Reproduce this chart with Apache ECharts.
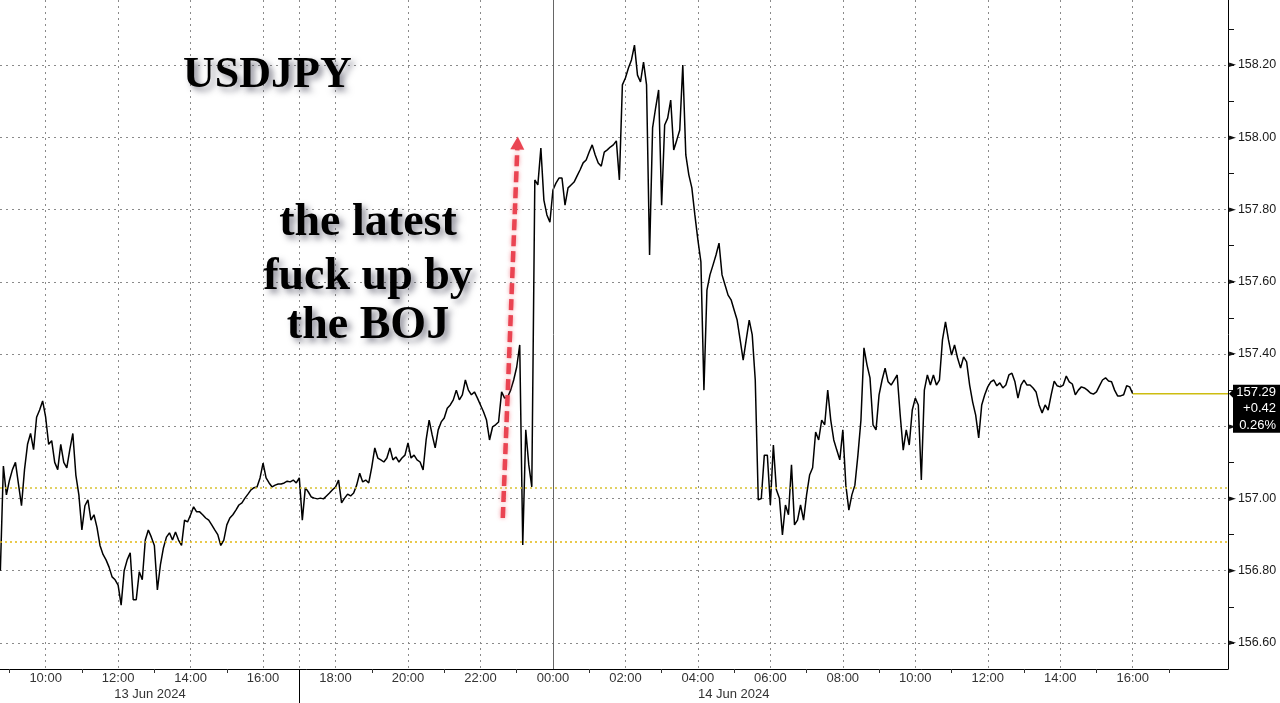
<!DOCTYPE html>
<html>
<head>
<meta charset="utf-8">
<title>USDJPY</title>
<script src="https://cdn.jsdelivr.net/npm/echarts@6.0.0/dist/echarts.min.js"></script>
<style>
html, body { margin: 0; padding: 0; background: #fff; }
#chart { width: 1280px; height: 703px; }
</style>
</head>
<body>
<div id="chart"></div>
<script>
// USDJPY 5-minute closes, 13 Jun 2024 08:45 -> 14 Jun 2024 16:00
var startHour = 8.75;      // hours after 13 Jun 00:00
var stepMinutes = 5;

var pricesJun13Day = [
  156.800, 157.090, 157.010, 157.050, 157.080, 157.100, 157.040, 156.980, 157.080, 157.150,
  157.180, 157.135, 157.225, 157.245, 157.270, 157.225, 157.150, 157.160, 157.100, 157.080,
  157.150, 157.100, 157.085, 157.135, 157.180, 157.065, 157.010, 156.913, 156.980, 156.996,
  156.940, 156.955, 156.920, 156.870, 156.845, 156.830, 156.810, 156.783, 156.775, 156.760,
  156.705, 156.800, 156.830, 156.850, 156.720, 156.720, 156.797, 156.775, 156.885, 156.913,
  156.893, 156.870, 156.747, 156.816, 156.863, 156.893, 156.905, 156.885, 156.907, 156.885,
  156.870, 156.940, 156.935, 156.955, 156.977, 156.963, 156.963, 156.955, 156.946, 156.940,
  156.927, 156.913, 156.900, 156.870, 156.885, 156.927, 156.946, 156.955, 156.968, 156.982,
  156.988, 157.001, 157.012, 157.024, 157.030, 157.032, 157.057, 157.098, 157.057, 157.043,
  157.032, 157.037, 157.040, 157.040, 157.043, 157.048, 157.046, 157.051, 157.043, 157.057
];
var pricesJun13Eve = [
  156.940, 157.030, 157.018, 157.004, 157.001, 156.999, 157.001, 156.999, 157.007, 157.015,
  157.024, 157.032, 157.051, 156.988, 157.001, 157.012, 157.007, 157.015, 157.037, 157.070,
  157.046, 157.051, 157.043, 157.087, 157.140, 157.112, 157.107, 157.101, 157.112, 157.140,
  157.107, 157.115, 157.101, 157.112, 157.120, 157.154, 157.112, 157.120, 157.107, 157.101,
  157.079, 157.162, 157.217, 157.176, 157.140, 157.190, 157.212, 157.223, 157.250, 157.259,
  157.273, 157.300, 157.273, 157.287, 157.328, 157.300, 157.287, 157.295, 157.278, 157.259,
  157.240, 157.217, 157.162, 157.198, 157.204, 157.212, 157.295, 157.278, 157.281, 157.300,
  157.328, 157.364, 157.425, 156.871, 157.190, 157.093, 157.032, 157.882, 157.868, 157.970,
  157.826, 157.785, 157.765, 157.854
];
var pricesJun14Asia = [
  157.873, 157.887, 157.887, 157.812, 157.860, 157.868, 157.876, 157.893, 157.910, 157.929,
  157.937, 157.959, 157.979, 157.951, 157.929, 157.920, 157.959, 157.965, 157.973, 157.979,
  157.990, 157.882, 158.145, 158.164, 158.192, 158.214, 158.255, 158.172, 158.153, 158.208,
  158.145, 157.674, 158.026, 158.081, 158.131, 157.812, 158.034, 158.053, 158.103, 157.965,
  157.992, 158.020, 158.200, 157.951, 157.896, 157.860, 157.785, 157.716, 157.655, 157.300,
  157.577, 157.619, 157.646, 157.674, 157.707, 157.619, 157.591, 157.563, 157.550, 157.522,
  157.494, 157.439, 157.383, 157.439, 157.494, 157.453, 157.328, 156.996, 157.000, 157.120,
  157.120, 156.982, 157.148, 157.024, 157.001, 156.899, 156.982, 156.955, 157.093, 156.927,
  156.940, 156.982, 156.940, 157.010, 157.065, 157.085, 157.184, 157.162, 157.217, 157.204,
  157.300, 157.217, 157.162, 157.134, 157.107, 157.190
];
var pricesJun14Day = [
  157.037, 156.968, 157.010, 157.037, 157.120, 157.217, 157.417, 157.370, 157.334, 157.204,
  157.190, 157.287, 157.328, 157.361, 157.323, 157.314, 157.328, 157.342, 157.231, 157.134,
  157.190, 157.148, 157.245, 157.278, 157.259, 157.051, 157.300, 157.342, 157.314, 157.342,
  157.314, 157.328, 157.439, 157.489, 157.439, 157.397, 157.425, 157.389, 157.361, 157.392,
  157.378, 157.314, 157.267, 157.231, 157.168, 157.259, 157.287, 157.309, 157.323, 157.328,
  157.312, 157.320, 157.306, 157.314, 157.342, 157.347, 157.323, 157.278, 157.314, 157.328,
  157.314, 157.314, 157.306, 157.295, 157.259, 157.237, 157.259, 157.245, 157.287, 157.325,
  157.312, 157.309, 157.314, 157.339, 157.323, 157.317, 157.287, 157.300, 157.309, 157.306,
  157.300, 157.292, 157.289, 157.295, 157.312, 157.328, 157.334, 157.325, 157.323, 157.300,
  157.284, 157.284, 157.287, 157.312, 157.309, 157.290
];

// axis ticks and labels (hours after 13 Jun 00:00)
var hourLabels = [10, 12, 14, 16, 18, 20, 22, 24, 26, 28, 30, 32, 34, 36, 38, 40];
var hourTicks = [9, 11, 13, 15, 17, 19, 21, 23, 25, 27, 29, 31, 33, 35, 37, 39, 41];
var gridHours = [10, 12, 14, 16, 17, 18, 20, 22, 26, 28, 30, 32, 34, 36, 38, 40];
var dayBreakHour = 24;
var sessionBreakHour = 17;
var dayLabelHours = [12.88, 28.99];
var dayLabels = ['13 Jun 2024', '14 Jun 2024'];
var priceLabels = [156.6, 156.8, 157.0, 157.2, 157.4, 157.6, 157.8, 158.0, 158.2];
var priceTicks = [156.6, 156.7, 156.8, 156.9, 157.0, 157.1, 157.2, 157.3, 157.4, 157.5,
                  157.6, 157.7, 157.8, 157.9, 158.0, 158.1, 158.2, 158.3];
var refLevels = [157.035, 156.88];
var lastPrice = 157.29;
var lastChange = '+0.42';
var lastPct = '0.26%';

var xMin = 8.74, xMax = 42.63;
var yMin = 156.528, yMax = 158.38;

var prices = pricesJun13Day.concat(pricesJun13Eve, pricesJun14Asia, pricesJun14Day);
var lineData = prices.map(function (v, i) {
  return [startHour + i * stepMinutes / 60, v];
});
var lastHour = lineData[lineData.length - 1][0];

var gridDot = { color: '#8a8a8a', width: 1, type: [2, 4] };

var chart = echarts.init(document.getElementById('chart'), null, { renderer: 'canvas' });

var option = {
  animation: false,
  backgroundColor: '#fff',
  grid: { left: 0, right: 52, top: 0, bottom: 34, outerBoundsMode: 'none' },
  xAxis: [{
    type: 'value', min: xMin, max: xMax, position: 'bottom',
    axisLine: { show: true, onZero: false, lineStyle: { color: '#000', width: 1 } },
    axisTick: { show: true, customValues: hourTicks, length: 4, lineStyle: { color: '#333' } },
    axisLabel: {
      customValues: hourLabels, margin: 3, color: '#333', fontSize: 13, fontFamily: 'Liberation Sans',
      formatter: function (v) {
        var h = Math.round(v) % 24;
        return (h < 10 ? '0' : '') + h + ':00';
      }
    },
    splitLine: { show: false }
  }, {
    // dotted vertical grid
    type: 'value', min: xMin, max: xMax, position: 'bottom',
    axisLine: { show: false, onZero: false },
    axisTick: { show: false, customValues: gridHours },
    axisLabel: { show: false },
    splitLine: { show: true, lineStyle: gridDot }
  }, {
    // dates and the 17:00 session divider
    type: 'value', min: xMin, max: xMax, position: 'bottom',
    axisLine: { show: false, onZero: false },
    axisTick: { show: true, customValues: [sessionBreakHour], length: 34, lineStyle: { color: '#000' } },
    axisLabel: {
      customValues: dayLabelHours, margin: 19, color: '#333', fontSize: 13, fontFamily: 'Liberation Sans',
      formatter: function (v) {
        var best = 0;
        for (var k = 1; k < dayLabelHours.length; k++) {
          if (Math.abs(dayLabelHours[k] - v) < Math.abs(dayLabelHours[best] - v)) best = k;
        }
        return dayLabels[best];
      }
    },
    splitLine: { show: false }
  }],
  yAxis: [{
    type: 'value', min: yMin, max: yMax, position: 'right',
    axisLine: { show: true, onZero: false, lineStyle: { color: '#000', width: 1 } },
    axisTick: { show: true, customValues: priceTicks, length: 6, lineStyle: { color: '#111' } },
    axisLabel: {
      customValues: priceLabels, margin: 1,
      formatter: function (v) { return '{t|\u25BA}{v|' + v.toFixed(2) + '}'; },
      rich: {
        t: { fontFamily: 'DejaVu Sans', fontSize: 9, color: '#111', padding: [0, 2, 0, 0] },
        v: { fontFamily: 'Liberation Sans', fontSize: 12.5, color: '#1a1a1a' }
      }
    },
    splitLine: { show: false }
  }, {
    // dotted horizontal grid
    type: 'value', min: yMin, max: yMax, position: 'right',
    axisLine: { show: false, onZero: false },
    axisTick: { show: false, customValues: priceLabels },
    axisLabel: { show: false },
    splitLine: { show: true, lineStyle: gridDot }
  }],
  series: [{
    type: 'line',
    xAxisIndex: 0, yAxisIndex: 0,
    data: lineData,
    showSymbol: false,
    z: 4,
    lineStyle: { color: '#000', width: 1.5 },
    emphasis: { disabled: true },
    markLine: {
      silent: true, animation: false,
      symbol: ['none', 'none'],
      label: { show: false },
      emphasis: { disabled: true },
      data: [
        { xAxis: dayBreakHour, lineStyle: { color: '#666', width: 1, type: 'solid' } },
        { yAxis: refLevels[0], lineStyle: { color: '#d8c230', width: 1.6, type: [2, 3] } },
        { yAxis: refLevels[1], lineStyle: { color: '#e2b810', width: 1.6, type: [2, 3] } },
        [{ coord: [22.616, 156.946], symbol: 'none',
           lineStyle: { color: '#ea4452', width: 4.5, type: [11, 5],
                        shadowBlur: 4, shadowColor: 'rgba(234,68,82,0.55)' } },
         { coord: [23.023, 157.984], symbol: 'triangle', symbolSize: [14, 13] }]
      ]
    }
  }],
  graphic: [{
    id: 'title', type: 'text', x: 183, y: 76, z: 10,
    style: {
      text: 'USDJPY', font: 'bold 44px "Liberation Serif"', fill: '#000',
      verticalAlign: 'middle',
      textShadowColor: 'rgba(50,50,70,0.55)', textShadowBlur: 6,
      textShadowOffsetX: 4, textShadowOffsetY: 4
    }
  }, {
    id: 'note1', type: 'text', x: 368, y: 223, z: 10,
    style: {
      text: 'the latest', font: 'bold 46px "Liberation Serif"', fill: '#000',
      align: 'center', verticalAlign: 'middle',
      textShadowColor: 'rgba(50,50,70,0.55)', textShadowBlur: 6,
      textShadowOffsetX: 4, textShadowOffsetY: 4
    }
  }, {
    id: 'note2', type: 'text', x: 368, y: 277, z: 10,
    style: {
      text: 'fuck up by', font: 'bold 46px "Liberation Serif"', fill: '#000',
      align: 'center', verticalAlign: 'middle',
      textShadowColor: 'rgba(50,50,70,0.55)', textShadowBlur: 6,
      textShadowOffsetX: 4, textShadowOffsetY: 4
    }
  }, {
    id: 'note3', type: 'text', x: 368, y: 326, z: 10,
    style: {
      text: 'the BOJ', font: 'bold 46px "Liberation Serif"', fill: '#000',
      align: 'center', verticalAlign: 'middle',
      textShadowColor: 'rgba(50,50,70,0.55)', textShadowBlur: 6,
      textShadowOffsetX: 4, textShadowOffsetY: 4
    }
  }]
};

chart.setOption(option);

// last-price guide from the last point to the axis, and the box on the price axis
var p0 = chart.convertToPixel({ xAxisIndex: 0, yAxisIndex: 0 }, [lastHour, lastPrice]);
var p = chart.convertToPixel({ xAxisIndex: 0, yAxisIndex: 0 }, [xMax, lastPrice]);
var bx = p[0], by = p[1];
var boxFont = '13px "Liberation Sans"';
chart.setOption({
  graphic: [{
    id: 'lastGuide', type: 'line', z: 5,
    shape: { x1: p0[0], y1: by, x2: bx, y2: by },
    style: { stroke: '#cdbd10', lineWidth: 1.3 }
  }, {
    id: 'lastBox', type: 'polygon', z: 20,
    shape: { points: [[bx + 1, by], [bx + 5, by - 4], [bx + 5, by - 9], [1285, by - 9],
                      [1285, by + 39], [bx + 5, by + 39], [bx + 5, by + 4]] },
    style: { fill: '#000' }
  }, {
    id: 'lastTxt1', type: 'text', x: 1276, y: by - 1.5, z: 21,
    style: { text: lastPrice.toFixed(2), font: boxFont, fill: '#fff', align: 'right', verticalAlign: 'middle' }
  }, {
    id: 'lastTxt2', type: 'text', x: 1276, y: by + 15, z: 21,
    style: { text: lastChange, font: boxFont, fill: '#fff', align: 'right', verticalAlign: 'middle' }
  }, {
    id: 'lastTxt3', type: 'text', x: 1276, y: by + 31.5, z: 21,
    style: { text: lastPct, font: boxFont, fill: '#fff', align: 'right', verticalAlign: 'middle' }
  }]
});
</script>
</body>
</html>
